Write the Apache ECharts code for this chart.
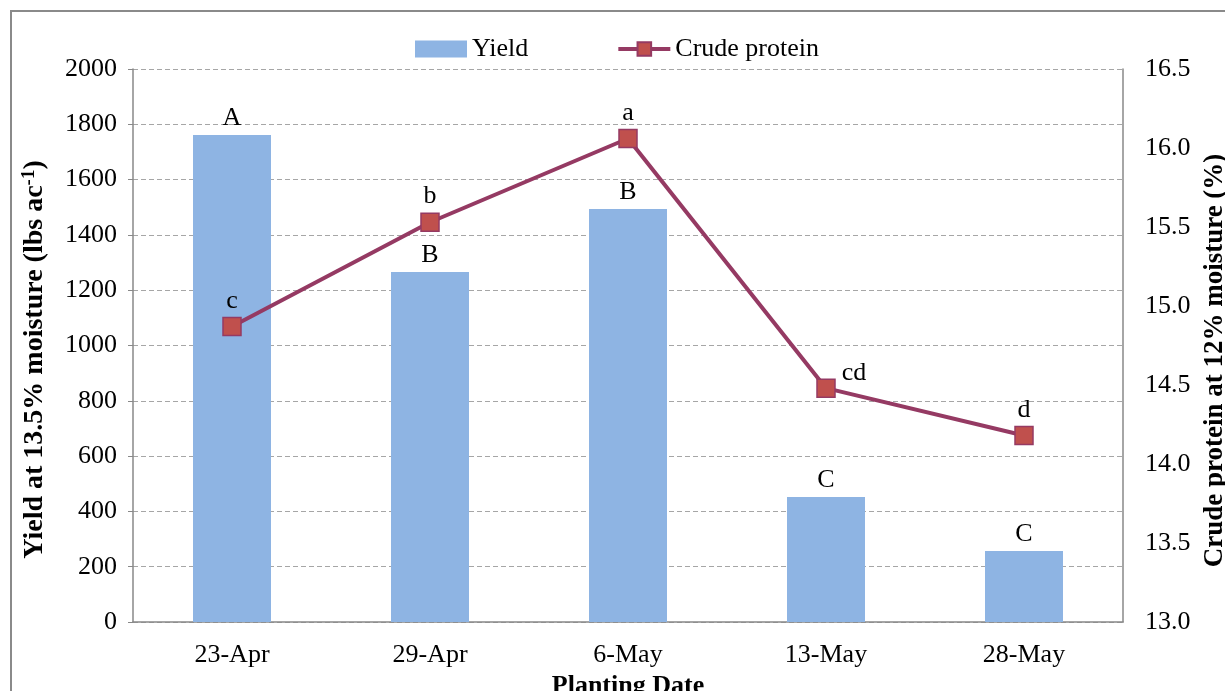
<!DOCTYPE html>
<html>
<head>
<meta charset="utf-8">
<script src="https://cdn.jsdelivr.net/npm/echarts@6/dist/echarts.min.js"></script>
<style>
html,body{margin:0;padding:0;background:#fff;}
#chart{width:1225px;height:691px;}
</style>
</head>
<body>
<div id="chart"></div>
<script>
const categories = ['23-Apr', '29-Apr', '6-May', '13-May', '28-May'];
const yieldValues = [1761, 1266, 1494, 452, 257];
const yieldLetters = ['A', 'B', 'B', 'C', 'C'];
const proteinValues = [14.87, 15.53, 16.06, 14.48, 14.18];
const proteinLetters = ['c', 'b', 'a', 'cd', 'd'];

const FONT = "'Liberation Serif', 'Times New Roman', serif";
const FS = 26;
const proteinLabelPos = ['top', 'top', 'top', 'right', 'top'];

const chart = echarts.init(document.getElementById('chart'), null, {renderer: 'canvas'});
const option = {
  backgroundColor: '#fff',
  textStyle: {fontFamily: FONT, color: '#000'},
  graphic: [{
    type: 'rect', shape: {x: 11, y: 11, width: 1400, height: 900},
    style: {fill: 'none', stroke: '#8a8a8a', lineWidth: 2}, silent: true, z: -1
  }],
  legend: {
    top: 31, left: 410, itemGap: 88,
    itemWidth: 52, itemHeight: 17,
    textStyle: {fontFamily: FONT, fontSize: FS, color: '#000', padding: [0, 0, 0, 0]},
    data: [
      {name: 'Yield', icon: 'rect'},
      {name: 'Crude protein', lineStyle: {width: 4}}
    ]
  },
  grid: {left: 133, right: 102, top: 69, bottom: 69, containLabel: false, outerBoundsMode: 'none'},
  xAxis: {
    type: 'category', data: categories,
    axisLine: {lineStyle: {color: '#888', width: 1.5}},
    axisTick: {show: false},
    axisLabel: {fontFamily: FONT, fontSize: FS, color: '#000', margin: 20},
    name: 'Planting Date', nameLocation: 'middle', nameGap: 48,
    nameTextStyle: {fontFamily: FONT, fontSize: FS, fontWeight: 'bold', color: '#000'}
  },
  yAxis: [{
    type: 'value', min: 0, max: 2000, interval: 200,
    axisLine: {show: true, lineStyle: {color: '#888', width: 1.5}},
    axisTick: {show: true, length: 5, lineStyle: {color: '#888'}},
    axisLabel: {fontFamily: FONT, fontSize: FS, color: '#000', margin: 16, formatter: v => String(v)},
    splitLine: {lineStyle: {color: '#a6a6a6', type: [5, 3], width: 1}},
    name: '{b|Yield at 13.5% moisture (lbs ac}{s|-1}{b|)}',
    nameLocation: 'middle', nameRotate: 90, nameGap: 83,
    nameTextStyle: {
      padding: [0, 28, 0, 0],
      rich: {
        b: {fontFamily: FONT, fontSize: 28, fontWeight: 'bold', color: '#000', lineHeight: 30},
        s: {fontFamily: FONT, fontSize: 19, fontWeight: 'bold', color: '#000', verticalAlign: 'top', lineHeight: 30, padding: [0, 0, 12, 0]}
      }
    }
  }, {
    type: 'value', min: 13, max: 16.5, interval: 0.5,
    axisLine: {show: true, lineStyle: {color: '#888', width: 1.5}},
    axisTick: {show: false},
    axisLabel: {fontFamily: FONT, fontSize: FS, color: '#000', margin: 22,
      formatter: v => v.toFixed(1)},
    splitLine: {show: false},
    name: 'Crude protein at 12% moisture (%)',
    nameLocation: 'middle', nameRotate: 90, nameGap: 76,
    nameTextStyle: {fontFamily: FONT, fontSize: 27, fontWeight: 'bold', color: '#000', padding: [0, 30, 0, 0]}
  }],
  series: [{
    name: 'Yield', type: 'bar', yAxisIndex: 0, barWidth: 78,
    itemStyle: {color: '#8EB4E3'},
    data: yieldValues,
    label: {show: true, position: 'top', distance: 4,
      fontFamily: FONT, fontSize: FS, color: '#000',
      formatter: p => yieldLetters[p.dataIndex]},
    z: 2
  }, {
    name: 'Crude protein', type: 'line', yAxisIndex: 1,
    symbol: 'rect', symbolSize: 18,
    lineStyle: {color: '#953A63', width: 4},
    itemStyle: {color: '#C0504D', borderColor: '#953A63', borderWidth: 1.5},
    data: proteinValues.map((v, i) => ({
      value: v,
      label: proteinLabelPos[i] === 'right'
        ? {position: 'right', distance: 6, offset: [0, -15]}
        : {position: 'top', distance: 3}
    })),
    label: {show: true, fontFamily: FONT, fontSize: FS, color: '#000',
      formatter: p => proteinLetters[p.dataIndex]},
    z: 5
  }],
  animation: false
};
chart.setOption(option);
</script>
</body>
</html>
